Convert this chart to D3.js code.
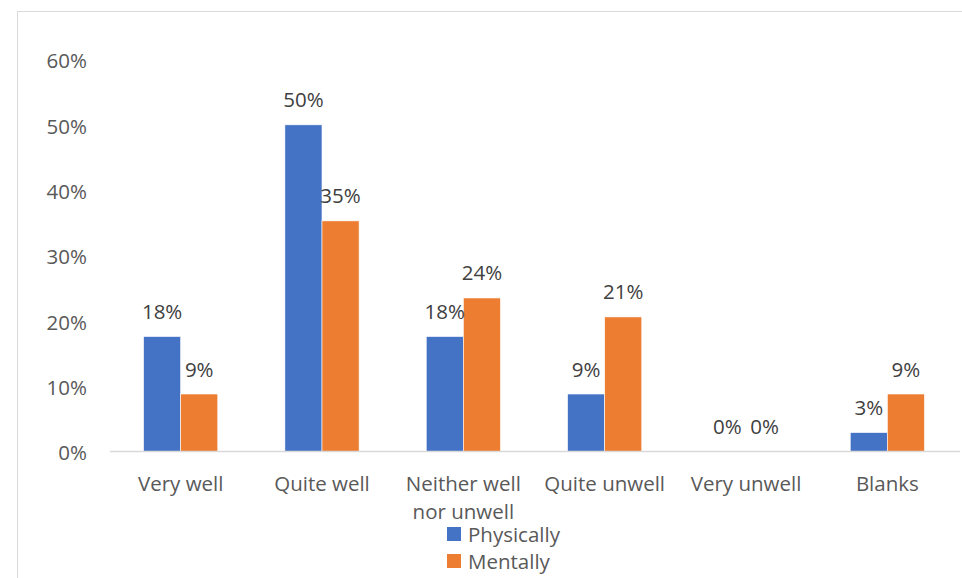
<!DOCTYPE html>
<html><head><meta charset="utf-8">
<script src="https://cdn.jsdelivr.net/npm/d3@7"></script>
<style>
html,body{margin:0;padding:0;background:#fff;}
text{font-family:"Open Sans",sans-serif;}
</style></head>
<body>
<svg id="chart" width="962" height="578"></svg>
<script>
const categories = ["Very well", "Quite well", "Neither well\nnor unwell", "Quite unwell", "Very unwell", "Blanks"];
const seriesNames = ["Physically", "Mentally"];
const physically = [0.176, 0.50, 0.176, 0.088, 0, 0.029];
const mentally = [0.088, 0.353, 0.235, 0.206, 0, 0.088];
const yTicks = [0, 0.1, 0.2, 0.3, 0.4, 0.5, 0.6];
const colors = ["#4472C4", "#ED7D31"];

const FS = 20.5;
const FF = "'Open Sans',sans-serif";
const svg = d3.select("#chart");
svg.append("rect").attr("x", 17.5).attr("y", 11.5).attr("width", 960).attr("height", 580)
  .attr("fill", "none").attr("stroke", "#d9d9d9").attr("stroke-width", 1);

const m = {left: 110, right: 4, top: 59.5, bottom: 126.5};
const W = 962, H = 578;
const x0 = d3.scaleBand().domain(categories).range([m.left, W - m.right]).paddingInner(0.475).paddingOuter(0.2375);
const x1 = d3.scaleBand().domain(seriesNames).range([0, x0.bandwidth()]);
const y = d3.scaleLinear().domain([0, 0.6]).range([H - m.bottom, m.top]);
const fmt = d3.format(".0%");

const yAxis = d3.axisLeft(y).tickValues(yTicks).tickFormat(fmt).tickSize(0).tickPadding(0);
const ya = svg.append("g").attr("transform", `translate(87,0)`).call(yAxis);
ya.select(".domain").remove();
ya.selectAll("text").attr("font-size", FS).attr("fill", "#595959").attr("font-family", FF).attr("dy", "0.4em");

const data = categories.map((c, i) => ({cat: c, vals: [physically[i], mentally[i]]}));
const groups = svg.append("g").selectAll("g").data(data).join("g")
  .attr("transform", d => `translate(${x0(d.cat)},0)`);
groups.selectAll("rect").data(d => d.vals.map((v, j) => ({v, s: seriesNames[j], j}))).join("rect")
  .attr("x", d => x1(d.s)).attr("width", x1.bandwidth())
  .attr("y", d => y(d.v)).attr("height", d => y(0) - y(d.v))
  .attr("fill", d => colors[d.j]).attr("stroke", "#fff").attr("stroke-width", 0.6);
groups.selectAll("text.lbl").data(d => d.vals.map((v, j) => ({v, s: seriesNames[j], j}))).join("text")
  .attr("class", "lbl")
  .attr("x", d => x1(d.s) + x1.bandwidth() / 2).attr("y", d => y(d.v) - 17.5)
  .attr("text-anchor", "middle").attr("font-size", FS).attr("fill", "#404040")
  .text(d => fmt(d.v));

const xAxis = d3.axisBottom(x0).tickSize(0).tickFormat("");
const xa = svg.append("g").attr("transform", `translate(0,${y(0)})`).call(xAxis);
xa.select(".domain").attr("stroke", "#d9d9d9").attr("stroke-width", 1.5)
  .attr("d", `M${m.left},0H${W - m.right + 2}`);
xa.selectAll(".tick").each(function(d) {
  const t = d3.select(this).append("text").attr("text-anchor", "middle")
    .attr("font-size", FS).attr("fill", "#595959");
  d.split("\n").forEach((line, i) => {
    t.append("tspan").attr("x", 0).attr("y", 39 + i * 28).text(line);
  });
});

const lg = svg.append("g").attr("transform", "translate(447,527)");
seriesNames.forEach((s, i) => {
  const g = lg.append("g").attr("transform", `translate(0,${i * 27})`);
  g.append("rect").attr("width", 14).attr("height", 14).attr("fill", colors[i]);
  g.append("text").attr("x", 21).attr("y", 14.5).attr("font-size", FS).attr("fill", "#595959").text(s);
});
</script>
</body></html>
